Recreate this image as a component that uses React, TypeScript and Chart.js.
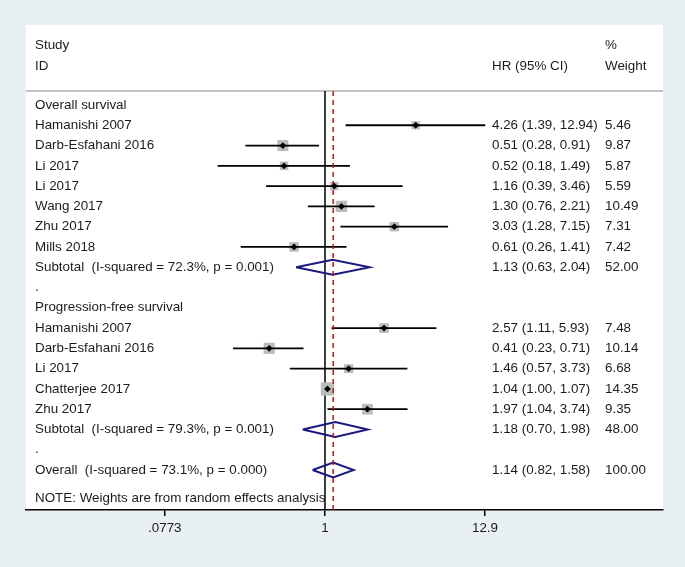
import React, { useEffect, useRef } from 'react';
import { Chart, registerables } from 'chart.js';

Chart.register(...registerables);

// ---- data ----
const studyNames = ['Hamanishi 2007', 'Darb-Esfahani 2016', 'Li 2017', 'Li 2017', 'Wang 2017', 'Zhu 2017', 'Mills 2018', 'Hamanishi 2007', 'Darb-Esfahani 2016', 'Li 2017', 'Chatterjee 2017', 'Zhu 2017'];
const studyRows = [1, 2, 3, 4, 5, 6, 7, 11, 12, 13, 14, 15];
const studyHR = [4.26, 0.51, 0.52, 1.16, 1.30, 3.03, 0.61, 2.57, 0.41, 1.46, 1.04, 1.97];
const studyLow = [1.39, 0.28, 0.18, 0.39, 0.76, 1.28, 0.26, 1.11, 0.23, 0.57, 1.00, 1.04];
const studyHigh = [12.94, 0.91, 1.49, 3.46, 2.21, 7.15, 1.41, 5.93, 0.71, 3.73, 1.07, 3.74];
const studyWeight = [5.46, 9.87, 5.87, 5.59, 10.49, 7.31, 7.42, 7.48, 10.14, 6.68, 14.35, 9.35];

const pooledNames = ['Subtotal  (I-squared = 72.3%, p = 0.001)', 'Subtotal  (I-squared = 79.3%, p = 0.001)', 'Overall  (I-squared = 73.1%, p = 0.000)'];
const pooledRows = [8, 16, 18];
const pooledHR = [1.13, 1.18, 1.14];
const pooledLow = [0.63, 0.70, 0.82];
const pooledHigh = [2.04, 1.98, 1.58];
const pooledWeight = [52.0, 48.0, 100.0];

const sectionNames = ['Overall survival', '.', 'Progression-free survival', '.'];
const sectionRows = [0, 9, 10, 17];

const tickValues = [0.0773, 1, 12.9];
const tickLabels = ['.0773', '1', '12.9'];
const nullValue = 1;
const overallHR = pooledHR[2];
const noteText = 'NOTE: Weights are from random effects analysis';
const noteRow = 19.4;

// ---- layout / style ----
const W = 685;
const H = 567;
const PANEL = { left: 26, top: 25, right: 663, bottom: 510 };
const HEADER_SEP = 91;
const Y_MIN = -0.69;
const Y_MAX = 19.97;
const X_MIN = 0.00841;
const X_MAX = 221.8;
const FONT_FAMILY = '"Liberation Sans", Arial, Helvetica, sans-serif';
const FONT = `13.4px ${FONT_FAMILY}`;
const TEXT = '#1c1c1c';
const COL_LABEL = 35;
const COL_HR = 492;
const COL_W = 605;

const fmtCI = (e: number, l: number, h: number) => `${e.toFixed(2)} (${l.toFixed(2)}, ${h.toFixed(2)})`;

export default function App() {
  const ref = useRef<HTMLCanvasElement | null>(null);

  useEffect(() => {
    if (!ref.current) return;

    const datasets: any[] = [];
    // null line
    datasets.push({
      data: [{ x: nullValue, y: Y_MIN }, { x: nullValue, y: Y_MAX }],
      showLine: true, borderColor: '#000', borderWidth: 1.5, pointRadius: 0, order: 20,
    });
    // overall effect dashed line
    datasets.push({
      data: [{ x: overallHR, y: Y_MIN }, { x: overallHR, y: Y_MAX }],
      showLine: true, borderColor: '#b51c1c', borderWidth: 1.5, borderDash: [5, 4], pointRadius: 0, order: 2,
    });
    // weight squares
    datasets.push({
      data: studyHR.map((v, i) => ({ x: v, y: studyRows[i] })),
      pointStyle: 'rect',
      pointRadius: studyWeight.map((w) => (3.5 * Math.sqrt(w)) / Math.SQRT2),
      backgroundColor: '#bcbcbc', borderWidth: 0, order: 15,
    });
    // CI lines
    studyHR.forEach((_, i) => {
      datasets.push({
        data: [{ x: studyLow[i], y: studyRows[i] }, { x: studyHigh[i], y: studyRows[i] }],
        showLine: true, borderColor: '#000', borderWidth: 1.8, pointRadius: 0, order: 10,
      });
    });
    // pooled diamonds
    pooledHR.forEach((e, i) => {
      const r = pooledRows[i];
      datasets.push({
        data: [
          { x: pooledLow[i], y: r }, { x: e, y: r - 0.37 }, { x: pooledHigh[i], y: r },
          { x: e, y: r + 0.37 }, { x: pooledLow[i], y: r },
        ],
        showLine: true, borderColor: '#1a1a80', borderWidth: 2, pointRadius: 0, fill: false, order: 3,
        tension: 0,
      });
    });
    // point estimates
    datasets.push({
      data: studyHR.map((v, i) => ({ x: v, y: studyRows[i] })),
      pointStyle: 'rectRot', pointRadius: 3.4, backgroundColor: '#000', borderWidth: 0, order: 1,
    });

    const panelPlugin = {
      id: 'panel',
      beforeDraw(chart: any) {
        const ctx = chart.ctx;
        ctx.save();
        ctx.fillStyle = '#e8f0f3';
        ctx.fillRect(0, 0, W, H);
        ctx.fillStyle = '#ffffff';
        ctx.fillRect(PANEL.left, PANEL.top, PANEL.right - PANEL.left, PANEL.bottom - PANEL.top);
        ctx.strokeStyle = '#c4c4c4';
        ctx.lineWidth = 2;
        ctx.beginPath();
        ctx.moveTo(PANEL.left, HEADER_SEP);
        ctx.lineTo(PANEL.right, HEADER_SEP);
        ctx.stroke();
        ctx.restore();
      },
      beforeDatasetsDraw(chart: any) {
        const ctx = chart.ctx;
        const ys = chart.scales.y;
        ctx.save();
        ctx.font = FONT;
        ctx.fillStyle = TEXT;
        ctx.textBaseline = 'middle';
        ctx.textAlign = 'left';
        // header
        ctx.fillText('Study', COL_LABEL, 45);
        ctx.fillText('ID', COL_LABEL, 66);
        ctx.fillText('HR (95% CI)', COL_HR, 66);
        ctx.fillText('%', COL_W, 45);
        ctx.fillText('Weight', COL_W, 66);
        sectionNames.forEach((s, i) => ctx.fillText(s, COL_LABEL, ys.getPixelForValue(sectionRows[i])));
        studyNames.forEach((s, i) => {
          const y = ys.getPixelForValue(studyRows[i]);
          ctx.fillText(s, COL_LABEL, y);
          ctx.fillText(fmtCI(studyHR[i], studyLow[i], studyHigh[i]), COL_HR, y);
          ctx.fillText(studyWeight[i].toFixed(2), COL_W, y);
        });
        pooledNames.forEach((s, i) => {
          const y = ys.getPixelForValue(pooledRows[i]);
          ctx.fillText(s, COL_LABEL, y);
          ctx.fillText(fmtCI(pooledHR[i], pooledLow[i], pooledHigh[i]), COL_HR, y);
          ctx.fillText(pooledWeight[i].toFixed(2), COL_W, y);
        });
        ctx.fillText(noteText, COL_LABEL, ys.getPixelForValue(noteRow));
        ctx.restore();
      },
    };

    const chart = new Chart(ref.current, {
      type: 'scatter',
      data: { datasets },
      options: {
        animation: false,
        responsive: false,
        events: [],
        layout: { padding: { left: PANEL.left, right: W - PANEL.right, top: HEADER_SEP, bottom: 0 } },
        plugins: { legend: { display: false }, tooltip: { enabled: false } },
        scales: {
          x: {
            type: 'logarithmic',
            min: X_MIN,
            max: X_MAX,
            bounds: 'data',
            afterBuildTicks: (scale: any) => {
              scale.ticks = tickValues.map((v) => ({ value: v }));
            },
            afterFit: (scale: any) => {
              scale.height = H - PANEL.bottom;
            },
            ticks: {
              autoSkip: false,
              maxRotation: 0,
              minRotation: 0,
              padding: 4,
              color: TEXT,
              font: { family: FONT_FAMILY, size: 13.4 },
              callback: (value: any) => {
                const idx = tickValues.findIndex((t) => Math.abs(t - Number(value)) < 1e-6 * Math.max(1, t));
                return idx >= 0 ? tickLabels[idx] : '';
              },
            },
            grid: { display: true, drawOnChartArea: false, drawTicks: true, tickLength: 6, color: '#000', lineWidth: 1.5 },
            border: { display: true, color: '#000', width: 1.5 },
          },
          y: {
            type: 'linear',
            reverse: true,
            min: Y_MIN,
            max: Y_MAX,
            display: false,
          },
        },
      } as any,
      plugins: [panelPlugin],
    });
    return () => chart.destroy();
  }, []);

  return (
    <div style={{ position: 'absolute', left: 0, top: 0, width: W, height: H, background: '#e8f0f3' }}>
      <canvas ref={ref} width={W} height={H} style={{ display: 'block', width: W, height: H }} />
    </div>
  );
}
